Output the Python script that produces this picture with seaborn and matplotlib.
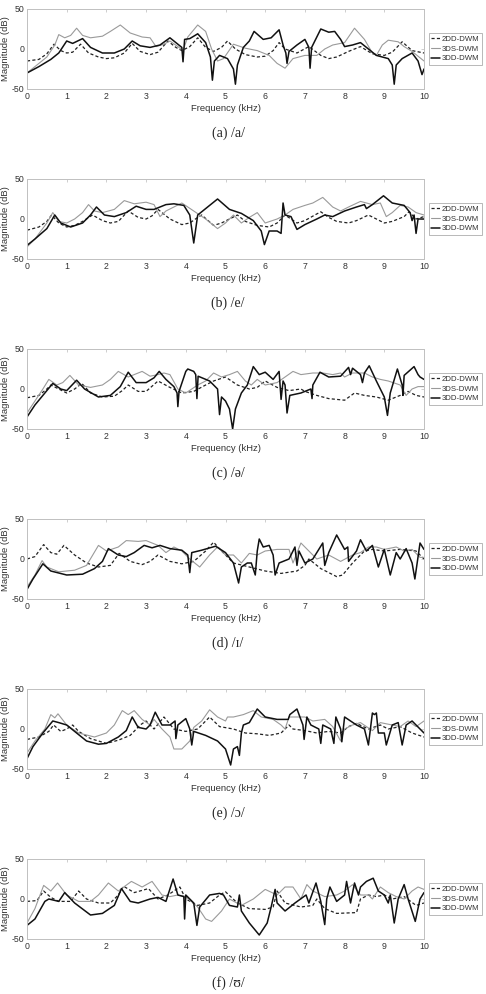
import numpy as np
import pandas as pd
import matplotlib
matplotlib.use('Agg')
import matplotlib.pyplot as plt
import seaborn as sns

# (kHz, dB) points, one list per series and panel
a_2dd = [(0, -15), (0.3, -13), (0.5, -6), (0.68, 6), (0.85, -2), (1.0, -5), (1.15, -4), (1.35, 6), (1.55, -5),
         (1.8, -10), (2.0, -12), (2.2, -11), (2.45, -5), (2.65, 7), (2.85, -3), (3.1, -7), (3.3, -4), (3.55, 10),
         (3.75, 2), (3.9, -2), (4.1, 3), (4.3, 14), (4.5, 2), (4.7, -3), (4.9, 2), (5.05, 10), (5.25, 0), (5.5, -7),
         (5.8, -10), (6.0, -9), (6.2, -2), (6.35, 8), (6.5, 0), (6.8, -5), (7.1, 3), (7.4, -8), (7.6, -12), (7.8, -10),
         (8.1, -3), (8.4, 3), (8.7, -6), (9.0, -8), (9.2, -4), (9.45, 9), (9.7, -2), (10, -5)]
a_3ds = [(0, -30), (0.2, -22), (0.5, -10), (0.7, 5), (0.8, 18), (0.95, 14), (1.1, 17), (1.25, 26), (1.4, 17),
         (1.6, 14), (1.9, 16), (2.1, 22), (2.35, 30), (2.6, 20), (2.9, 15), (3.1, 14), (3.25, 3), (3.45, 6), (3.6, 10),
         (3.8, 3), (3.93, -2), (4.05, 15), (4.3, 30), (4.5, 22), (4.65, 0), (4.8, -15), (4.95, -12), (5.2, 6),
         (5.5, 1), (5.8, -2), (6.1, -8), (6.3, -18), (6.5, -24), (6.7, -12), (7.0, -8), (7.3, -8), (7.5, 0), (7.7, 5),
         (8.0, 8), (8.25, 26), (8.5, 12), (8.7, -5), (8.8, -8), (8.95, 5), (9.1, 11), (9.35, 9), (9.5, 3),
         (9.7, -3), (10, -15)]
a_3dd = [(0, -30), (0.3, -22), (0.6, -13), (0.8, -5), (1.0, 10), (1.15, 7), (1.4, 13), (1.6, 2), (1.9, -5),
         (2.2, -5), (2.45, 0), (2.65, 10), (2.85, 4), (3.1, 2), (3.35, 5), (3.6, 14), (3.8, 6), (3.9, 2), (3.93, -16),
         (3.97, 12), (4.1, 13), (4.3, 19), (4.5, 8), (4.62, -10), (4.67, -39), (4.72, -15), (4.85, -8), (5.05, -12),
         (5.2, -25), (5.25, -44), (5.3, -20), (5.45, 2), (5.6, 10), (5.72, 22), (5.95, 12), (6.15, 14), (6.35, 24),
         (6.45, 5), (6.52, -5), (6.55, -18), (6.6, -3), (6.8, 5), (7.0, 12), (7.1, 2), (7.13, -24), (7.17, 2),
         (7.4, 25), (7.6, 21), (7.75, 22), (7.9, 12), (8.0, 3), (8.2, 5), (8.4, 8), (8.6, 0), (8.8, -8), (9.1, -12),
         (9.2, -20), (9.25, -44), (9.3, -20), (9.45, -12), (9.7, -5), (9.85, -15), (9.95, -32), (10, -25)]

b_2dd = [(0, -14), (0.3, -10), (0.5, -3), (0.62, 5), (0.8, -5), (1.0, -10), (1.2, -8), (1.4, -3), (1.65, 5),
         (1.9, -2), (2.1, -5), (2.3, -3), (2.55, 10), (2.8, 2), (3.0, 0), (3.15, 4), (3.3, 12), (3.6, 0), (3.9, -7),
         (4.1, -5), (4.3, 2), (4.4, 5), (4.7, -8), (4.9, -5), (5.1, 0), (5.3, 5), (5.5, -3), (5.8, -8), (6.1, -10),
         (6.3, -5), (6.5, 5), (6.8, -5), (7.0, -2), (7.25, 5), (7.4, 9), (7.6, 2), (7.8, -3), (8.1, -5), (8.3, -2),
         (8.6, 5), (8.8, 0), (9.0, -5), (9.2, -3), (9.5, 3), (9.62, 9), (9.8, 0), (10, 3)]
b_3ds = [(0, -35), (0.2, -25), (0.5, -5), (0.65, 8), (0.8, -3), (1.0, -5), (1.2, 0), (1.4, 8), (1.55, 18),
         (1.7, 10), (1.9, 8), (2.2, 12), (2.45, 23), (2.7, 19), (3.0, 21), (3.2, 18), (3.35, 3), (3.5, 10),
         (3.7, 15), (3.9, 20), (4.2, 10), (4.5, 0), (4.8, -12), (5.0, -5), (5.2, 5), (5.4, -5), (5.6, 2), (5.8, 8),
         (6.0, -5), (6.3, 0), (6.5, 5), (6.7, 12), (7.0, 17), (7.2, 20), (7.45, 27), (7.7, 15), (7.9, 10),
         (8.1, 15), (8.4, 22), (8.7, 18), (8.9, 20), (9.05, 3), (9.2, 8), (9.4, 17), (9.6, 15), (9.8, 8), (10, 5)]
b_3dd = [(0, -33), (0.2, -25), (0.5, -12), (0.7, 5), (0.85, -5), (1.1, -10), (1.4, -5), (1.6, 5), (1.75, 15),
         (1.95, 5), (2.2, 3), (2.5, 8), (2.75, 16), (3.0, 12), (3.2, 12), (3.5, 18), (3.7, 19), (3.95, 17),
         (4.1, 5), (4.2, -30), (4.3, 5), (4.55, 15), (4.8, 25), (5.1, 12), (5.4, 7), (5.7, -2), (5.9, -15),
         (5.98, -32), (6.1, -15), (6.3, -15), (6.4, -18), (6.45, 20), (6.5, 5), (6.65, 3), (6.8, -13), (7.0, -7),
         (7.3, 0), (7.5, 5), (7.7, 3), (8.0, 10), (8.3, 15), (8.5, 18), (8.55, 13), (8.7, 18), (8.98, 29),
         (9.2, 20), (9.5, 17), (9.65, 8), (9.7, -2), (9.75, 5), (9.8, -18), (9.85, 0), (10, 0)]

c_2dd = [(0, -11), (0.3, -8), (0.5, 0), (0.6, 5), (0.8, 0), (1.0, -5), (1.2, 0), (1.38, 7), (1.6, -5),
         (1.9, -10), (2.2, -9), (2.4, -2), (2.55, 5), (2.8, -3), (3.0, -3), (3.3, 10), (3.6, 2), (3.9, -5),
         (4.2, -3), (4.5, 5), (4.7, 10), (5.0, 15), (5.3, 5), (5.6, 0), (5.8, 2), (6.0, 10), (6.3, 2), (6.6, -2),
         (6.9, 0), (7.0, -3), (7.3, -8), (7.6, -12), (8.0, -14), (8.25, -5), (8.5, -8), (8.8, -10), (9.1, -14),
         (9.4, -8), (9.6, -3), (9.8, -8), (10, -10)]
c_3ds = [(0, -30), (0.2, -15), (0.4, 0), (0.55, 12), (0.75, 5), (0.9, 8), (1.08, 17), (1.3, 5), (1.6, 2),
         (1.9, 5), (2.1, 12), (2.3, 22), (2.55, 15), (2.9, 22), (3.1, 16), (3.3, 18), (3.45, 20), (3.6, 18),
         (3.8, 0), (4.0, -5), (4.3, 5), (4.5, 10), (4.7, 20), (4.9, 15), (5.1, 18), (5.3, 22), (5.5, 10),
         (5.65, 5), (5.8, 12), (6.0, 5), (6.3, 8), (6.5, 15), (6.7, 22), (6.9, 18), (7.2, 20), (7.45, 20),
         (7.7, 18), (7.9, 20), (8.0, 15), (8.2, 20), (8.5, 20), (8.7, 15), (8.9, 12), (9.1, 10), (9.4, 5),
         (9.55, -8), (9.7, 0), (9.85, 3), (10, 3)]
c_3dd = [(0, -35), (0.2, -20), (0.45, -5), (0.65, 7), (0.85, 0), (1.0, -2), (1.25, 11), (1.45, 0), (1.8, -10),
         (2.1, -8), (2.35, 3), (2.55, 21), (2.75, 8), (3.0, 8), (3.2, 14), (3.33, 22), (3.5, 12), (3.7, 3),
         (3.78, -5), (3.8, -22), (3.83, -3), (4.0, 22), (4.05, 25), (4.2, 22), (4.25, 18), (4.28, -12), (4.31, 16),
         (4.6, 10), (4.8, 0), (4.85, -32), (4.9, -10), (5.0, -15), (5.1, -25), (5.18, -50), (5.25, -25), (5.4, -5),
         (5.55, 5), (5.7, 28), (5.85, 18), (6.0, 21), (6.2, 12), (6.35, 22), (6.4, -13), (6.45, 10), (6.5, 5),
         (6.55, -30), (6.62, -8), (6.9, -5), (7.15, 0), (7.18, -12), (7.2, 5), (7.38, 21), (7.6, 15), (7.9, 16),
         (8.1, 27), (8.15, 18), (8.2, 26), (8.4, 18), (8.45, 8), (8.5, 20), (8.62, 29), (8.8, 10), (9.0, -10),
         (9.08, -33), (9.15, -5), (9.33, 25), (9.45, 5), (9.47, -8), (9.5, 17), (9.75, 28), (9.85, 18), (9.9, 15),
         (10, 12)]

d_2dd = [(0, 0), (0.2, 3), (0.42, 18), (0.6, 8), (0.75, 6), (0.93, 17), (1.2, 5), (1.5, -5), (1.8, -10),
         (2.1, -8), (2.32, 7), (2.6, -3), (2.9, -7), (3.1, -3), (3.3, 5), (3.6, -3), (3.9, -6), (4.2, -3),
         (4.5, 10), (4.7, 21), (4.9, 10), (5.2, -5), (5.6, -10), (6.0, -15), (6.4, -18), (6.8, -15), (7.0, -8),
         (7.1, 0), (7.4, -12), (7.8, -22), (7.95, -20), (8.2, -5), (8.5, 10), (8.7, 12), (9.0, 10), (9.4, 12),
         (9.8, 10), (10, 0)]
d_3ds = [(0, -35), (0.2, -20), (0.38, -2), (0.5, -10), (0.8, -16), (1.2, -14), (1.5, -8), (1.8, 17), (2.0, 10),
         (2.3, 15), (2.5, 23), (2.8, 22), (3.0, 23), (3.3, 17), (3.5, 8), (3.7, 15), (3.9, 10), (4.1, 0),
         (4.35, -10), (4.6, 5), (4.8, 15), (5.0, 5), (5.2, 5), (5.4, -5), (5.6, 7), (5.8, 5), (6.0, 10),
         (6.3, 12), (6.6, 12), (6.7, -5), (6.9, 20), (7.1, 10), (7.3, 0), (7.6, 5), (7.9, -3), (8.2, 5), (8.4, 8),
         (8.6, 15), (8.8, 15), (9.0, 12), (9.3, 15), (9.5, 10), (9.7, 12), (9.9, 2), (10, 2)]
d_3dd = [(0, -38), (0.15, -25), (0.4, -6), (0.6, -15), (1.0, -20), (1.4, -19), (1.7, -12), (1.9, -3),
         (2.05, 13), (2.3, 5), (2.5, 3), (2.7, 8), (2.95, 17), (3.15, 14), (3.35, 17), (3.6, 13), (3.9, 11),
         (4.05, 5), (4.1, -17), (4.15, 8), (4.4, 11), (4.75, 16), (5.0, 8), (5.2, -5), (5.33, -30), (5.4, -10),
         (5.55, -5), (5.65, -5), (5.75, -20), (5.8, 10), (5.85, 25), (5.95, 15), (6.1, 17), (6.2, 5), (6.25, -20),
         (6.35, -5), (6.6, 0), (6.75, 15), (6.8, -8), (6.85, 10), (7.0, -5), (7.2, 0), (7.45, 20), (7.5, -8),
         (7.6, 8), (7.8, 30), (8.0, 12), (8.08, 15), (8.1, -3), (8.3, 10), (8.4, 24), (8.55, 10), (8.7, 17),
         (8.85, -10), (9.0, 12), (9.15, -20), (9.3, 8), (9.4, 0), (9.55, 13), (9.7, -5), (9.77, -25), (9.9, 20),
         (10, 12)]

e_2dd = [(0, -13), (0.3, -10), (0.55, -3), (0.67, 5), (0.85, -3), (1.0, 0), (1.15, 5), (1.3, -3), (1.6, -12),
         (2.0, -18), (2.3, -14), (2.6, -8), (2.85, 5), (3.0, 10), (3.2, 0), (3.45, 15), (3.7, 0), (4.0, -3),
         (4.3, 0), (4.6, 15), (4.85, 3), (5.2, 0), (5.5, -5), (5.8, -6), (6.1, -8), (6.4, -5), (6.6, 5), (6.7, 0),
         (7.0, -2), (7.3, -5), (7.6, -3), (7.9, -5), (8.1, 3), (8.3, 7), (8.6, 0), (8.9, 5), (9.1, 0), (9.4, 3),
         (9.7, -5), (10, -10)]
e_3ds = [(0, -30), (0.2, -15), (0.45, 0), (0.6, 18), (0.7, 14), (0.78, 19), (1.0, 5), (1.3, -5), (1.7, -10),
         (2.0, -5), (2.2, 5), (2.4, 23), (2.55, 18), (2.7, 23), (2.9, 12), (3.1, 5), (3.2, 12), (3.4, 0),
         (3.6, -10), (3.7, -25), (3.9, -25), (4.1, -15), (4.2, 2), (4.4, 10), (4.6, 24), (4.8, 15), (5.0, 10),
         (5.05, 15), (5.2, 15), (5.45, 18), (5.7, 23), (5.9, 15), (6.2, 12), (6.4, 5), (6.5, 0), (6.6, 15),
         (6.8, 15), (7.0, 15), (7.2, 10), (7.5, 12), (7.7, 3), (7.9, -15), (8.0, 0), (8.2, 5), (8.4, 8),
         (8.7, -2), (8.9, 8), (9.2, 5), (9.4, 3), (9.6, 10), (9.8, 3), (10, 10)]
e_3dd = [(0, -37), (0.15, -22), (0.4, -5), (0.65, 10), (0.8, 8), (1.0, 5), (1.2, -3), (1.5, -15), (1.8, -19),
         (2.0, -18), (2.3, -10), (2.5, -2), (2.65, 15), (2.8, 2), (3.0, 0), (3.1, 5), (3.23, 21), (3.4, 5),
         (3.6, 5), (3.73, 10), (3.75, -12), (3.8, 5), (4.0, 13), (4.1, 0), (4.15, -20), (4.2, -3), (4.5, -8),
         (4.8, -15), (5.0, -25), (5.13, -45), (5.2, -25), (5.3, -22), (5.35, -33), (5.4, -5), (5.45, 5),
         (5.6, 8), (5.8, 25), (6.0, 15), (6.3, 12), (6.58, 12), (6.62, 18), (6.8, 25), (6.95, 5), (6.98, -13),
         (7.05, 15), (7.15, 5), (7.35, 0), (7.4, -18), (7.45, 5), (7.65, 0), (7.73, -18), (7.78, 15), (7.9, 0),
         (7.93, -16), (8.0, 15), (8.3, 5), (8.5, 0), (8.6, -20), (8.7, 20), (8.75, 18), (8.8, 20), (8.85, -5),
         (9.0, -5), (9.05, -20), (9.2, 5), (9.35, 8), (9.45, -20), (9.55, 5), (9.7, 10), (9.9, 0), (10, -5)]

f_2dd = [(0, -3), (0.25, -2), (0.42, 10), (0.6, 2), (0.8, -3), (1.1, -3), (1.3, 10), (1.5, 0), (1.8, -5),
         (2.1, -5), (2.3, 5), (2.43, 16), (2.7, 8), (3.06, 13), (3.3, 0), (3.55, 5), (3.85, 15), (4.0, 0),
         (4.3, -8), (4.6, -5), (4.85, 5), (5.0, 9), (5.3, -5), (5.6, -12), (6.0, -13), (6.2, -10), (6.3, 10),
         (6.5, -5), (6.9, -10), (7.2, -8), (7.3, 0), (7.5, -12), (7.8, -18), (8.3, -17), (8.4, 0), (8.6, 5),
         (8.8, 3), (9.0, 5), (9.2, 0), (9.5, 3), (9.8, -8), (10, -5)]
f_3ds = [(0, -30), (0.2, -12), (0.42, 17), (0.6, 10), (0.77, 20), (1.0, 5), (1.3, -3), (1.6, -3), (1.8, 5),
         (2.05, 20), (2.3, 10), (2.63, 22), (2.9, 15), (3.15, 22), (3.4, 5), (3.6, 3), (3.8, 5), (4.0, 3),
         (4.3, -10), (4.5, -25), (4.65, -28), (4.9, -15), (5.1, 0), (5.4, -8), (5.7, 0), (6.0, 12), (6.3, 5),
         (6.5, 15), (6.7, 15), (6.9, 0), (7.05, 18), (7.2, 10), (7.5, 3), (7.8, 5), (8.0, 10), (8.2, 18),
         (8.4, 5), (8.6, 5), (8.7, 0), (8.9, 15), (9.1, 8), (9.3, 3), (9.5, 0), (9.7, 10), (9.85, 15), (10, 12)]
f_3dd = [(0, -33), (0.2, -25), (0.45, -3), (0.55, 0), (0.8, -3), (0.95, 8), (1.2, -5), (1.6, -20), (1.9, -18),
         (2.2, -8), (2.38, 13), (2.6, -3), (2.8, -5), (3.1, 0), (3.3, 2), (3.5, -3), (3.68, 25), (3.8, 5),
         (3.95, 3), (3.97, -25), (4.0, 5), (4.2, -5), (4.28, -33), (4.35, -10), (4.6, 5), (4.85, 7), (4.95, 5),
         (5.1, -8), (5.3, -10), (5.35, 5), (5.4, -15), (5.6, -30), (5.85, -45), (6.05, -30), (6.15, -10),
         (6.25, 12), (6.3, -5), (6.5, -15), (6.75, -5), (7.03, 5), (7.1, -5), (7.28, 20), (7.4, -3), (7.5, -32),
         (7.55, 0), (7.63, 15), (7.8, -3), (8.0, 5), (8.05, 22), (8.15, -5), (8.25, 20), (8.35, 5), (8.4, 15),
         (8.55, 22), (8.72, 26), (8.85, 10), (9.0, 5), (9.1, -5), (9.15, 5), (9.25, -30), (9.35, 0), (9.5, 18),
         (9.6, 0), (9.78, -28), (9.9, 0), (10, 8)]

captions = ['(a) /a/', '(b) /e/', '(c) /ə/', '(d) /ɪ/', '(e) /ɔ/', '(f) /ʊ/']
panels = [(a_2dd, a_3ds, a_3dd), (b_2dd, b_3ds, b_3dd), (c_2dd, c_3ds, c_3dd),
          (d_2dd, d_3ds, d_3dd), (e_2dd, e_3ds, e_3dd), (f_2dd, f_3ds, f_3dd)]
series_names = ['2DD-DWM', '3DS-DWM', '3DD-DWM']
x_ticks = list(range(0, 11))
y_ticks = [-50, 0, 50]

sns.set_theme(style='white')
plt.rcParams['font.family'] = ['Liberation Sans', 'DejaVu Sans']
plt.rcParams['axes.unicode_minus'] = False

W, H = 486, 994
fig = plt.figure(figsize=(W / 100, H / 100), dpi=100)

styles = [dict(color='#222222', lw=0.9, linestyle=(0, (2.5, 1.8))),
          dict(color='#9a9a9a', lw=0.8, linestyle='-'),
          dict(color='#111111', lw=1.1, linestyle='-')]

for i, (series, cap) in enumerate(zip(panels, captions)):
    top = 9 + 170 * i
    ax = fig.add_axes([27 / W, 1 - (top + 80) / H, 397 / W, 80 / H])
    for name, pts, st in zip(series_names, series, styles):
        df = pd.DataFrame(pts, columns=['kHz', 'dB'])
        sns.lineplot(data=df, x='kHz', y='dB', ax=ax, label=name, estimator=None, sort=False, **st)
    ax.set_xlim(0, 10)
    ax.set_ylim(-50, 50)
    ax.set_xticks(x_ticks)
    ax.set_yticks(y_ticks)
    ax.set_yticklabels([str(v) for v in y_ticks])
    ax.tick_params(direction='in', length=2, width=0.5, top=True, right=True, labelsize=6.3,
                   colors='#bbbbbb', labelcolor='#333333', pad=2)
    for sp in ax.spines.values():
        sp.set_color('#c0c0c0')
        sp.set_linewidth(0.7)
    ax.set_xlabel('Frequency (kHz)', fontsize=6.8, color='#333333', labelpad=2.5)
    ax.set_ylabel('Magnitude (dB)', fontsize=6.8, color='#333333', labelpad=1.5)
    leg = ax.legend(loc='center left', bbox_to_anchor=(1.012, 0.5), fontsize=5.6, frameon=True,
                    fancybox=False, handlelength=1.1, handletextpad=0.25, borderpad=0.3,
                    labelspacing=0.3, borderaxespad=0)
    leg.get_frame().set_edgecolor('#999999')
    leg.get_frame().set_linewidth(0.6)
    for t in leg.get_texts():
        t.set_color('#333333')
    fig.text(228 / W, 1 - (133 + 170 * i) / H, cap, ha='center', va='center', fontsize=10,
             family=['Liberation Serif', 'DejaVu Serif'])

fig.savefig('out.png', dpi=100)
